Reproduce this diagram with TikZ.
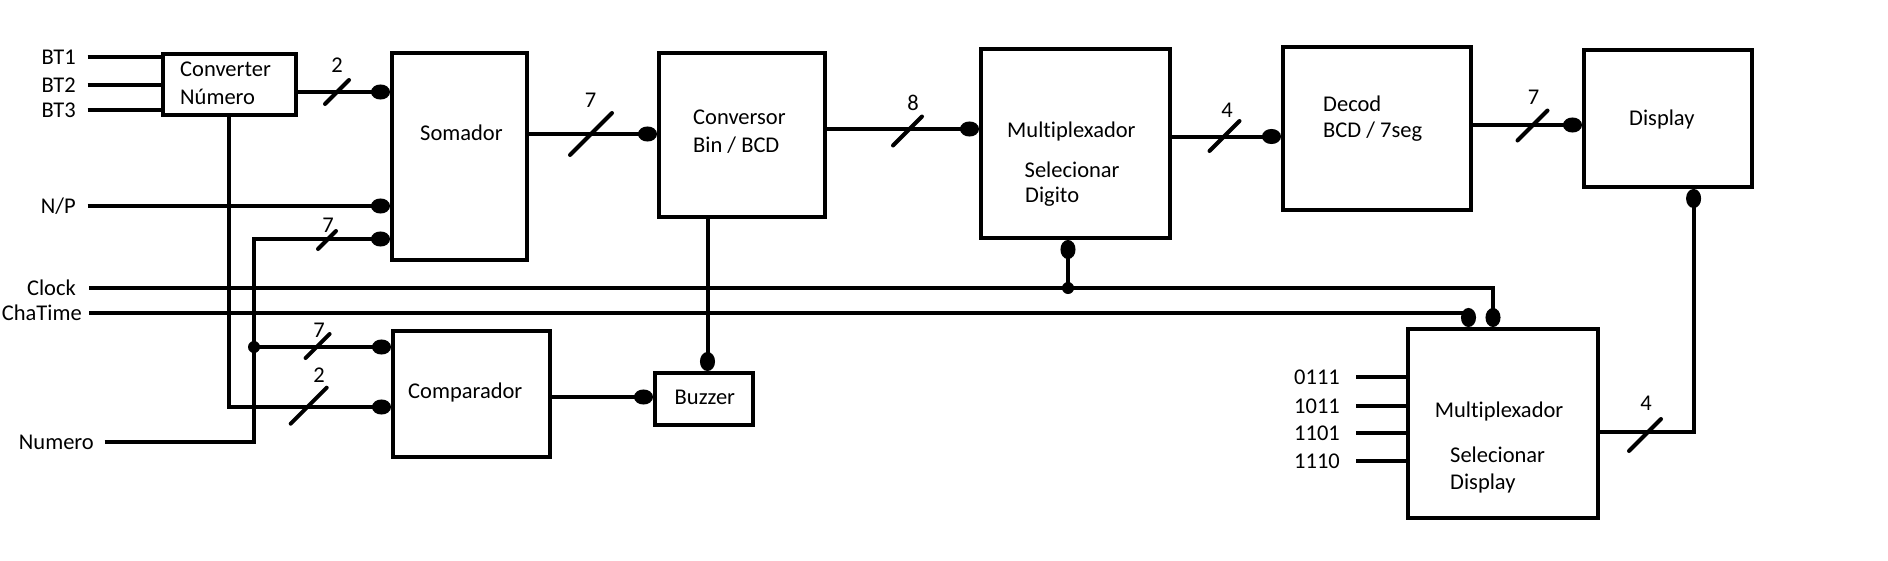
\documentclass[tikz,border=0pt]{standalone}
\usepackage{fontspec}
\setmainfont[Ligatures=NoCommon]{Carlito}
\usetikzlibrary{arrows.meta}
\newcommand\busmark[3]{\draw[wire,line cap=round] (#1-#3,#2+#3) -- (#1+#3,#2-#3);}
\begin{document}
\begin{tikzpicture}[x=1pt,y=-1pt,
  wire/.style={line width=4pt},
  arr/.style={wire,-{Ellipse[length=19pt,width=15pt]}},
  blk/.style={draw,line width=4pt,inner sep=0pt},
  txt/.style={font=\fontsize{22.5pt}{27pt}\selectfont,inner sep=0pt},
  lbl/.style={txt,anchor=east},
  btxt/.style={txt,anchor=west},
  dotn/.style={circle,fill,inner sep=0pt,minimum size=12pt},
]
\useasboundingbox[fill=white] (0,0) rectangle (1888,560);

% blocks
\node[blk,minimum width=133pt,minimum height=61pt] (conv) at (229.5,84.5) {};
\node[blk,minimum width=135pt,minimum height=207pt] (som) at (459.5,156.5) {};
\node[blk,minimum width=166pt,minimum height=164pt] (cbcd) at (742,135) {};
\node[blk,minimum width=189pt,minimum height=189pt] (mux1) at (1075.5,143.5) {};
\node[blk,minimum width=188pt,minimum height=163pt] (decod) at (1377,128.5) {};
\node[blk,minimum width=168pt,minimum height=137pt] (disp) at (1668,118.5) {};
\node[blk,minimum width=157pt,minimum height=126pt] (comp) at (471.5,394) {};
\node[blk,minimum width=98pt,minimum height=52pt] (buzz) at (704,399) {};
\node[blk,minimum width=190pt,minimum height=189pt] (mux2) at (1503,423.5) {};

% block texts
\node[btxt] (t1) at (180,69) {Converter};
\node[btxt] (t2) at (180,97) {Número};
\node[btxt] (t3) at (420,133) {Somador};
\node[btxt] (t4) at (693,117) {Conversor};
\node[btxt] (t5) at (693,145) {Bin / BCD};
\node[btxt] (t6) at (1007,131) {Multiplexador};
\node[btxt] (t7) at (1024.5,170) {Selecionar};
\node[btxt] (t8) at (1025,197) {Digito};
\node[btxt] (t9) at (1323,104) {Decod};
\node[btxt] (t10) at (1323,132) {BCD / 7seg};
\node[btxt] (t11) at (1629,119) {Display};
\node[btxt] (t12) at (408,392) {Comparador};
\node[btxt] (t13) at (674.5,397) {Buzzer};
\node[btxt] (t14) at (1434.7,411.7) {Multiplexador};
\node[btxt] (t15) at (1450,455) {Selecionar};
\node[btxt] (t16) at (1450,483) {Display};

% input labels
\node[lbl] (bt1) at (76,57) {BT1};
\node[lbl] (bt2) at (76,85) {BT2};
\node[lbl] (bt3) at (76,110) {BT3};
\node[lbl] (np) at (76,206) {N/P};
\node[lbl] (clk) at (76,288) {Clock};
\node[lbl] (cht) at (82,313) {ChaTime};
\node[lbl] (num) at (94,442) {Numero};
\node[lbl] (i1) at (1340,377) {0111};
\node[lbl] (i2) at (1340,406) {1011};
\node[lbl] (i3) at (1340,433) {1101};
\node[lbl] (i4) at (1340,461) {1110};

% helper coordinates
\coordinate (cvb) at (228.6,407);
\coordinate (nm1) at (254,442);
\coordinate (nm2) at (254,239);
\node[dotn] (d0) at (254,347) {};
\node[dotn] (d1) at (1068,288) {};
\coordinate (bz) at (707.5,217);
\coordinate (ck) at (1493,288);
\coordinate (ct) at (1468.5,313);
\coordinate (mo) at (1693.6,432);

% wires
\draw[wire] ([xshift=11.5pt]bt1.east) -- (bt1 -| conv.west);
\draw[wire] ([xshift=11.5pt]bt2.east) -- (bt2 -| conv.west);
\draw[wire] ([xshift=11.5pt]bt3.east) -- (bt3 -| conv.west);
\draw[arr] (conv.east |- 0,92) -- (som.west |- 0,92);
\draw[arr] ([xshift=11.5pt]np.east) -- (np -| som.west);
\draw[arr] ([xshift=10.5pt]num.east) -- (nm1) -- (nm2) -- (nm2 -| som.west);
\draw[arr] (d0.center) -- (d0 -| comp.west);
\draw[arr] (cvb |- conv.south) -- (cvb) -- (cvb -| comp.west);
\draw[arr] (som.east |- 0,134) -- (cbcd.west |- 0,134);
\draw[arr] (cbcd.east |- 0,129) -- (mux1.west |- 0,129);
\draw[arr] (mux1.east |- 0,136.5) -- (decod.west |- 0,136.5);
\draw[arr] (decod.east |- 0,125) -- (disp.west |- 0,125);
\draw[arr] (bz |- cbcd.south) -- (bz |- buzz.north);
\draw[arr] (comp.east |- 0,397) -- (buzz.west |- 0,397);
\draw[arr] ([xshift=13pt]clk.east) -- (ck) -- (ck |- mux2.north);
\draw[arr] ([xshift=7pt]cht.east) -- (ct) -- (ct |- mux2.north);
\draw[arr] (d1.center) -- (d1 |- mux1.south);
\draw[arr] (mux2.east |- mo) -- (mo) -- (mo |- disp.south);
\draw[wire] ([xshift=16pt]i1.east) -- (i1 -| mux2.west);
\draw[wire] ([xshift=16pt]i2.east) -- (i2 -| mux2.west);
\draw[wire] ([xshift=16pt]i3.east) -- (i3 -| mux2.west);
\draw[wire] ([xshift=16pt]i4.east) -- (i4 -| mux2.west);

% bus marks and widths
\busmark{337}{92}{12}
\busmark{327}{240}{9}
\busmark{591}{134}{21}
\busmark{907.5}{131}{14.5}
\busmark{1224.5}{136}{15}
\busmark{1532.5}{125.5}{15}
\busmark{317.6}{346}{12}
\busmark{308.7}{405.7}{18}
\busmark{1645}{435}{16}
\node[txt] (w1) at (337,65) {2};
\node[txt] (w2) at (328,225) {7};
\node[txt] (w3) at (590.5,100) {7};
\node[txt] (w4) at (913,103) {8};
\node[txt] (w5) at (1227,110) {4};
\node[txt] (w6) at (1533.5,97) {7};
\node[txt] (w7) at (319,330) {7};
\node[txt] (w8) at (319,375) {2};
\node[txt] (w9) at (1646,403) {4};
\end{tikzpicture}
\end{document}
